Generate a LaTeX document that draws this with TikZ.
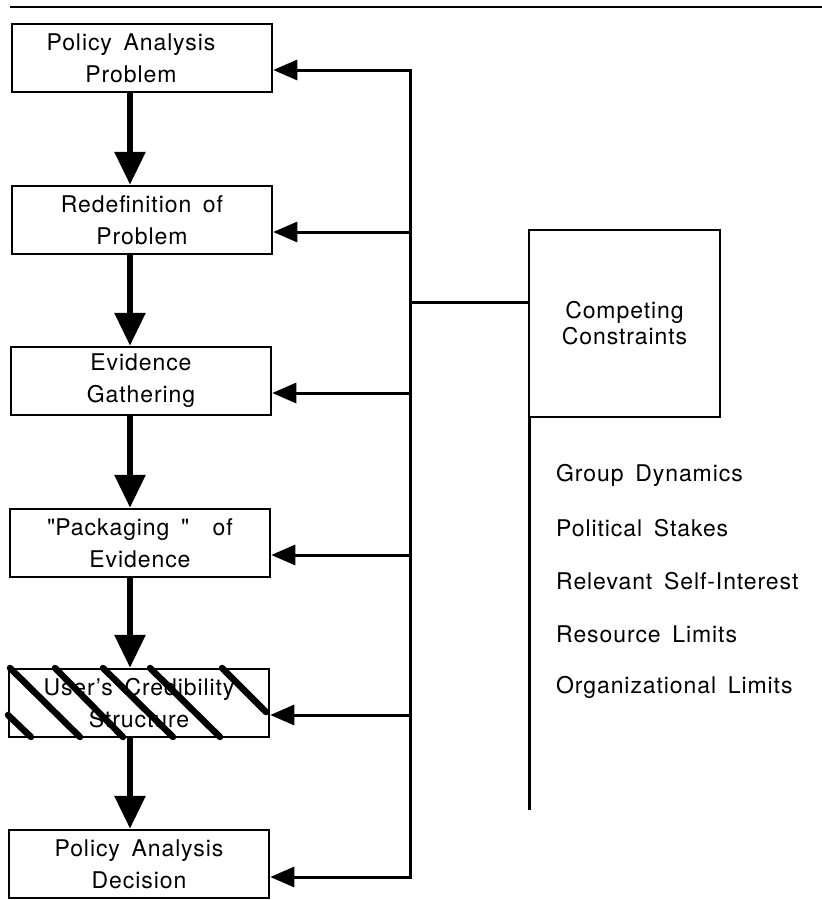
\documentclass[tikz,border=0pt]{standalone}
\usepackage{fontspec}
\setmainfont{TeX Gyre Heros}[LetterSpace=4,WordSpace=1.6]
\usetikzlibrary{arrows.meta}
\begin{document}
\begin{tikzpicture}[x=1pt,y=-1pt,
  box/.style={draw,line width=2.5pt,minimum width=260pt,minimum height=68pt,
    inner sep=0pt,align=center,font=\fontsize{23}{32}\selectfont},
  ccbox/.style={draw,line width=2.5pt,minimum width=191pt,minimum height=187pt,
    inner sep=0pt,outer sep=0pt,align=center,font=\fontsize{23}{26}\selectfont},
  down/.style={line width=6pt,-{Triangle[length=33pt,width=30pt]}},
  feed/.style={line width=3pt,-{Triangle[length=24pt,width=20pt]}},
  wire/.style={line width=3pt},
  item/.style={anchor=west,font=\fontsize{23}{26}\selectfont,inner sep=0pt},
  hatch/.style={line width=6.5pt,line cap=round}]
\useasboundingbox (0,0) rectangle (822,900);
% top rule
\coordinate (r1) at (10,7);
\coordinate (r2) at (822,7);
\draw[line width=2.2pt] (r1) -- (r2);
% boxes
\node[box] (b1) at (142,58) {Policy Analysis\hspace*{22pt}\\Problem\hspace*{22pt}};
\node[box] (b2) at (142,220) {Redefinition of\\Problem};
\node[box] (b3) at (141,381) {Evidence\\Gathering};
\node[box] (b4) at (140,543) {\textquotedbl Packaging~\textquotedbl~~of\\Evidence};
\node[box] (b5) at (139,703) {User's Credibility\\Structure};
\node[box] (b6) at (139,864) {Policy Analysis\\Decision};
% hatching
\draw[hatch] (10,668) -- (80,737);
\draw[hatch] (8,715) -- (31,737);
\draw[hatch] (55,668) -- (123,737);
\draw[hatch] (103,668) -- (173,737);
\draw[hatch] (150,668) -- (220,737);
\draw[hatch] (222,668) -- (266,712);
% down arrows
\coordinate (ax) at (130,0);
\draw[down] (b1.south -| ax) -- (b2.north -| ax);
\draw[down] (b2.south -| ax) -- (b3.north -| ax);
\draw[down] (b3.south -| ax) -- (b4.north -| ax);
\draw[down] (b4.south -| ax) -- (b5.north -| ax);
\draw[down] (b5.south -| ax) -- (b6.north -| ax);
% feedback bus
\coordinate (f1) at (410,70);
\coordinate (f2) at (410,232);
\coordinate (f3) at (410,393);
\coordinate (f4) at (410,555);
\coordinate (f5) at (410,715);
\coordinate (f6) at (410,877);
\draw[wire,line cap=rect] (f1) -- (f6);
\draw[feed] (f1) -- (f1 -| b1.east);
\draw[feed] (f2) -- (f2 -| b2.east);
\draw[feed] (f3) -- (f3 -| b3.east);
\draw[feed] (f4) -- (f4 -| b4.east);
\draw[feed] (f5) -- (f5 -| b5.east);
\draw[feed] (f6) -- (f6 -| b6.east);
% competing constraints
\node[ccbox] (cc) at (624.5,323.5) {Competing\\Constraints};
\coordinate (j) at (410,302);
\draw[wire] (j) -- (j -| cc.west);
\coordinate (cend) at (529,808);
\draw[wire,line cap=rect] (cc.south west) -- (cend);
% list
\node[item] (i1) at (556,475) {Group Dynamics};
\node[item] (i2) at (556,528) {Political Stakes};
\node[item] (i3) at (556,581) {Relevant Self-Interest};
\node[item] (i4) at (556,634) {Resource Limits};
\node[item] (i5) at (556,687) {Organizational Limits};
\end{tikzpicture}
\end{document}
